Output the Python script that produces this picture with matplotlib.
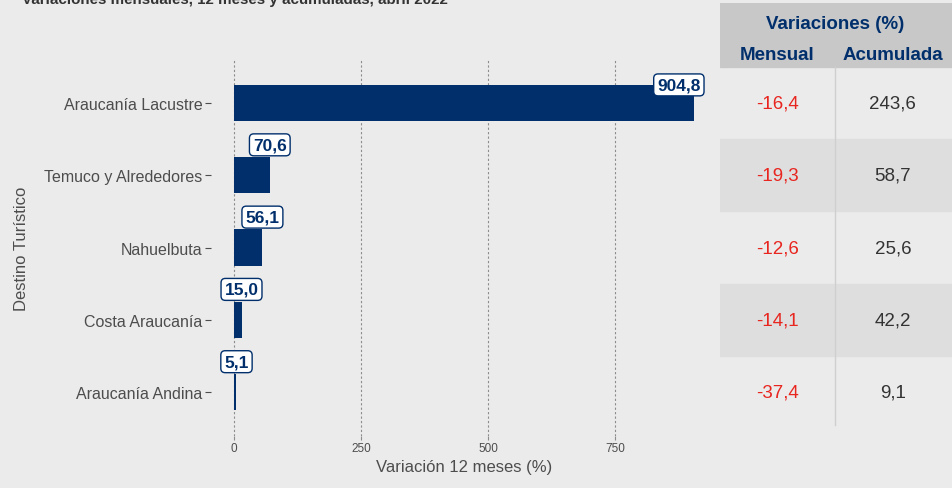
import numpy as np
import matplotlib.pyplot as plt

plt.rcParams['font.family'] = ['Liberation Sans', 'DejaVu Sans']

# datos (orden de abajo hacia arriba)
destinos = ["Araucanía Andina", "Costa Araucanía", "Nahuelbuta",
            "Temuco y Alrededores", "Araucanía Lacustre"]
var_12m = [5.1, 15.0, 56.1, 70.6, 904.8]
var_mensual = [-37.4, -14.1, -12.6, -19.3, -16.4]
var_acumulada = [9.1, 42.2, 25.6, 58.7, 243.6]

titulo = "Variaciones mensuales, 12 meses y acumuladas, abril 2022"
navy = "#002F6C"
bg = "#EBEBEB"

def fmt(v):
    return f"{v:.1f}".replace(".", ",")

W, H = 953, 489
fig = plt.figure(figsize=(W / 100, H / 100), dpi=100)
fig.patch.set_facecolor(bg)

# panel principal
top_px, bot_px = 60.6, 436.5
ax = fig.add_axes([211 / W, 1 - bot_px / H, (717 - 211) / W, (bot_px - top_px) / H])
ax.set_facecolor(bg)
pos = np.arange(1, len(destinos) + 1)
ax.barh(pos, var_12m, height=0.5, color=navy, zorder=3)
ax.set_xlim(-45, 950)
ax.set_ylim(0.4, 5.6)
ax.set_xticks([0, 250, 500, 750])
ax.set_xticklabels(["0", "250", "500", "750"])
ax.set_yticks(pos)
ax.set_yticklabels(destinos)
ax.grid(axis='x', color="#8C8C8C", linestyle=(0, (2, 2)), linewidth=0.8, zorder=0)
for s in ax.spines.values():
    s.set_visible(False)
ax.tick_params(axis='y', labelsize=11.5, labelcolor="#4D4D4D", color="#4D4D4D",
               length=4, width=0.8, pad=2)
ax.tick_params(axis='x', labelsize=8.5, labelcolor="#4D4D4D", color="#8C8C8C",
               length=3, width=0.8, pad=2)
ax.set_xlabel("Variación 12 meses (%)", fontsize=12, color="#4D4D4D", labelpad=3)
ax.set_ylabel("Destino Turístico", fontsize=12, color="#4D4D4D", labelpad=11)

xmax_lab = 875
box = dict(boxstyle="round,pad=0.2,rounding_size=0.25", fc="white", ec=navy, lw=1)
for p, v in zip(pos, var_12m):
    x = min(v, xmax_lab)
    if x < v:
        ax.annotate(fmt(v), (x, p + 0.25), ha='center', va='center',
                    fontsize=12.5, fontweight='bold', color=navy, zorder=5, bbox=box)
    else:
        ax.annotate(fmt(v), (x, p + 0.25), xytext=(0, 3.5), textcoords='offset points',
                    ha='center', va='bottom', fontsize=12.5, fontweight='bold',
                    color=navy, zorder=5, bbox=box)

# tabla a la derecha
tab_top = 4
tax = fig.add_axes([720 / W, 1 - bot_px / H, (953 - 720) / W, (bot_px - tab_top) / H])
tax.set_xlim(0, 1)
tax.set_ylim(0.4, 5.6 + (top_px - tab_top) / ((bot_px - top_px) / 5.2))
tax.axis('off')
y_top = tax.get_ylim()[1]
tax.axhspan(5.5, y_top, color="#C8C8C8", zorder=1)
for i, p in enumerate(pos):
    if i % 2 == 1:
        tax.axhspan(p - 0.5, p + 0.5, color="#DEDEDE", zorder=1)
tax.plot([0.494, 0.494], [0.55, 5.5], color="#CFCFCF", lw=1, zorder=2)
tax.text(0.494, 6.106, "Variaciones (%)", ha='center', va='center',
         fontsize=13.5, fontweight='bold', color=navy)
tax.text(0.245, 5.664, "Mensual", ha='center', va='center',
         fontsize=13.5, fontweight='bold', color=navy)
tax.text(0.742, 5.664, "Acumulada", ha='center', va='center',
         fontsize=13.5, fontweight='bold', color=navy)
for p, m, a in zip(pos, var_mensual, var_acumulada):
    tax.text(0.245, p, fmt(m), ha='center', va='center', fontsize=13.5,
             color="#E8251F" if m < 0 else "#333333")
    tax.text(0.742, p, fmt(a), ha='center', va='center', fontsize=13.5,
             color="#333333")

fig.text(22 / W, 1 - 4 / H, titulo, ha='left', va='baseline',
         fontsize=10.9, fontweight='bold', color="#333333")

fig.savefig("out.png", dpi=100, facecolor=bg)
